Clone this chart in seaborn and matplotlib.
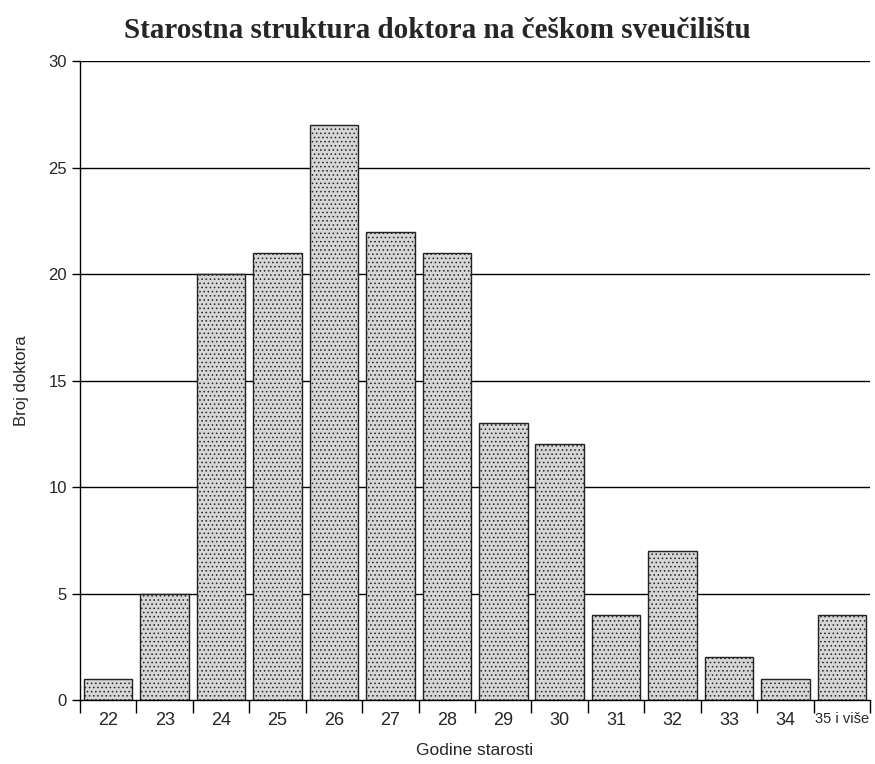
import pandas as pd
import seaborn as sns
import matplotlib.pyplot as plt
from matplotlib.ticker import FixedLocator

# data
ages = ['22', '23', '24', '25', '26', '27', '28', '29', '30', '31', '32', '33', '34', '35 i više']
counts = [1, 5, 20, 21, 27, 22, 21, 13, 12, 4, 7, 2, 1, 4]

df = pd.DataFrame({'age': ages, 'count': counts})

sns.set_style('white')
plt.rcParams['font.family'] = ['Liberation Sans', 'DejaVu Sans']
plt.rcParams['hatch.linewidth'] = 0.6

fig = plt.figure(figsize=(8.75, 7.64), dpi=100)
ax = fig.add_axes([0.0914, 0.0838, 0.903, 0.836])

# gridlines first so the bars sit on top
for y in [5, 10, 15, 20, 25, 30]:
    ax.axhline(y, color='black', linewidth=1.0, zorder=0)

sns.barplot(x='age', y='count', data=df, color='#d6d6d6', width=0.86,
            edgecolor='#222222', linewidth=1.0, ax=ax, zorder=2)
for p in ax.patches:
    p.set_hatch('....')

ax.set_xlim(-0.5, len(ages) - 0.5)
ax.set_ylim(0, 30)
ax.set_yticks([0, 5, 10, 15, 20, 25, 30])

# tick marks between categories, labels in the middle
ax.xaxis.set_minor_locator(FixedLocator([i - 0.5 for i in range(len(ages) + 1)]))
ax.tick_params(axis='x', which='major', bottom=True, length=0, labelsize=13, pad=9)
ax.tick_params(axis='x', which='minor', bottom=True, length=9, width=1, direction='out', color='black')
ax.tick_params(axis='y', left=True, length=6, width=1, direction='out', labelsize=12, color='black')
# the last label is squeezed in the original
ax.get_xticklabels()[-1].set_fontsize(10.5)

for s in ['top', 'right']:
    ax.spines[s].set_visible(False)
for s in ['left', 'bottom']:
    ax.spines[s].set_color('black')
    ax.spines[s].set_linewidth(1.0)

ax.set_xlabel('Godine starosti', fontsize=12.5, labelpad=10)
ax.set_ylabel('Broj doktora', fontsize=12, labelpad=14)
fig.suptitle('Starostna struktura doktora na češkom sveučilištu', y=0.978,
             fontsize=21, fontweight='bold', family='Liberation Serif')

plt.savefig('out.png', dpi=100)
